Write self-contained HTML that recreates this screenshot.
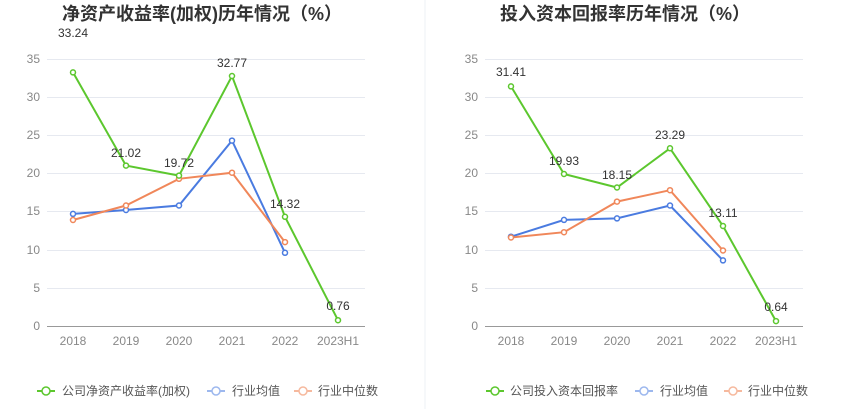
<!DOCTYPE html>
<html><head><meta charset="utf-8"><style>
body{margin:0;background:#fff;}
svg text{font-family:"Liberation Sans","Noto Sans CJK SC",sans-serif;}
</style></head><body>
<svg width="850" height="409" viewBox="0 0 850 409" xmlns="http://www.w3.org/2000/svg">
<rect width="850" height="409" fill="#fff"/>
<line x1="425" y1="0" x2="425" y2="409" stroke="#eef0f4" stroke-width="1"/>
<g id="L">
<text x="202" y="20" font-size="18" font-weight="bold" fill="#333" text-anchor="middle">净资产收益率(加权)历年情况（%）</text>
<g stroke="#e6e9f0" stroke-width="1">
<line x1="47" x2="365" y1="59.5" y2="59.5"/><line x1="47" x2="365" y1="97.5" y2="97.5"/><line x1="47" x2="365" y1="135.5" y2="135.5"/><line x1="47" x2="365" y1="173.5" y2="173.5"/><line x1="47" x2="365" y1="211.5" y2="211.5"/><line x1="47" x2="365" y1="250.5" y2="250.5"/><line x1="47" x2="365" y1="288.5" y2="288.5"/>
</g>
<line x1="47" x2="365" y1="326.5" y2="326.5" stroke="#999"/>
<g font-size="12" fill="#888" text-anchor="end">
<text x="40" y="63">35</text><text x="40" y="101">30</text><text x="40" y="139">25</text><text x="40" y="177">20</text><text x="40" y="215">15</text><text x="40" y="254">10</text><text x="40" y="292">5</text><text x="40" y="330">0</text>
</g>
<g font-size="12" fill="#888" text-anchor="middle">
<text x="73" y="345">2018</text><text x="126" y="345">2019</text><text x="179" y="345">2020</text><text x="232" y="345">2021</text><text x="285" y="345">2022</text><text x="338" y="345">2023H1</text>
</g>
<polyline fill="none" stroke="#4a7be0" stroke-width="2" points="73,213.9 126,210 179,205.5 232,140.6 285,252.8"/>
<polyline fill="none" stroke="#f0875a" stroke-width="2" points="73,220 126,205.5 179,178.8 232,172.7 285,242.1"/>
<polyline fill="none" stroke="#5cc72e" stroke-width="2" points="73,72.4 126,165.6 179,175.6 232,76 285,216.8 338,320.2"/>
<g fill="#fff" stroke-width="1.5">
<g stroke="#4a7be0"><circle cx="73" cy="213.9" r="2.5"/><circle cx="126" cy="210" r="2.5"/><circle cx="179" cy="205.5" r="2.5"/><circle cx="232" cy="140.6" r="2.5"/><circle cx="285" cy="252.8" r="2.5"/></g>
<g stroke="#f0875a"><circle cx="73" cy="220" r="2.5"/><circle cx="126" cy="205.5" r="2.5"/><circle cx="179" cy="178.8" r="2.5"/><circle cx="232" cy="172.7" r="2.5"/><circle cx="285" cy="242.1" r="2.5"/></g>
<g stroke="#5cc72e"><circle cx="73" cy="72.4" r="2.5"/><circle cx="126" cy="165.6" r="2.5"/><circle cx="179" cy="175.6" r="2.5"/><circle cx="232" cy="76" r="2.5"/><circle cx="285" cy="216.8" r="2.5"/><circle cx="338" cy="320.2" r="2.5"/></g>
</g>
<g font-size="12" fill="#333" text-anchor="middle">
<text x="73" y="37">33.24</text><text x="126" y="157">21.02</text><text x="179" y="167">19.72</text><text x="232" y="67">32.77</text><text x="285" y="208">14.32</text><text x="338" y="310">0.76</text>
</g>
<g font-size="12" fill="#555">
<line x1="37" x2="55" y1="391" y2="391" stroke="#5cc72e" stroke-width="2"/><circle cx="46" cy="391" r="4" fill="#fff" stroke="#5cc72e" stroke-width="1.5"/><text x="62" y="395">公司净资产收益率(加权)</text>
<line x1="207" x2="225" y1="391" y2="391" stroke="#9db8ee" stroke-width="2"/><circle cx="216" cy="391" r="4" fill="#fff" stroke="#9db8ee" stroke-width="1.5"/><text x="232" y="395">行业均值</text>
<line x1="294" x2="312" y1="391" y2="391" stroke="#f6b99e" stroke-width="2"/><circle cx="303" cy="391" r="4" fill="#fff" stroke="#f6b99e" stroke-width="1.5"/><text x="318" y="395">行业中位数</text>
</g>
</g>
<g id="R">
<text x="625" y="20" font-size="18" font-weight="bold" fill="#333" text-anchor="middle">投入资本回报率历年情况（%）</text>
<g stroke="#e6e9f0" stroke-width="1">
<line x1="485" x2="803" y1="59.5" y2="59.5"/><line x1="485" x2="803" y1="97.5" y2="97.5"/><line x1="485" x2="803" y1="135.5" y2="135.5"/><line x1="485" x2="803" y1="173.5" y2="173.5"/><line x1="485" x2="803" y1="211.5" y2="211.5"/><line x1="485" x2="803" y1="250.5" y2="250.5"/><line x1="485" x2="803" y1="288.5" y2="288.5"/>
</g>
<line x1="485" x2="803" y1="326.5" y2="326.5" stroke="#999"/>
<g font-size="12" fill="#888" text-anchor="end">
<text x="478" y="63">35</text><text x="478" y="101">30</text><text x="478" y="139">25</text><text x="478" y="177">20</text><text x="478" y="215">15</text><text x="478" y="254">10</text><text x="478" y="292">5</text><text x="478" y="330">0</text>
</g>
<g font-size="12" fill="#888" text-anchor="middle">
<text x="511" y="345">2018</text><text x="564" y="345">2019</text><text x="617" y="345">2020</text><text x="670" y="345">2021</text><text x="723" y="345">2022</text><text x="776" y="345">2023H1</text>
</g>
<polyline fill="none" stroke="#4a7be0" stroke-width="2" points="511,236.7 564,219.9 617,218.4 670,205.5 723,260.4"/>
<polyline fill="none" stroke="#f0875a" stroke-width="2" points="511,237.5 564,232.2 617,201.6 670,190.2 723,250.5"/>
<polyline fill="none" stroke="#5cc72e" stroke-width="2" points="511,86.4 564,174 617,187.5 670,148.3 723,226 776,321.1"/>
<g fill="#fff" stroke-width="1.5">
<g stroke="#4a7be0"><circle cx="511" cy="236.7" r="2.5"/><circle cx="564" cy="219.9" r="2.5"/><circle cx="617" cy="218.4" r="2.5"/><circle cx="670" cy="205.5" r="2.5"/><circle cx="723" cy="260.4" r="2.5"/></g>
<g stroke="#f0875a"><circle cx="511" cy="237.5" r="2.5"/><circle cx="564" cy="232.2" r="2.5"/><circle cx="617" cy="201.6" r="2.5"/><circle cx="670" cy="190.2" r="2.5"/><circle cx="723" cy="250.5" r="2.5"/></g>
<g stroke="#5cc72e"><circle cx="511" cy="86.4" r="2.5"/><circle cx="564" cy="174" r="2.5"/><circle cx="617" cy="187.5" r="2.5"/><circle cx="670" cy="148.3" r="2.5"/><circle cx="723" cy="226" r="2.5"/><circle cx="776" cy="321.1" r="2.5"/></g>
</g>
<g font-size="12" fill="#333" text-anchor="middle">
<text x="511" y="76">31.41</text><text x="564" y="165">19.93</text><text x="617" y="179">18.15</text><text x="670" y="139">23.29</text><text x="723" y="217">13.11</text><text x="776" y="311">0.64</text>
</g>
<g font-size="12" fill="#555">
<line x1="486" x2="504" y1="391" y2="391" stroke="#5cc72e" stroke-width="2"/><circle cx="495" cy="391" r="4" fill="#fff" stroke="#5cc72e" stroke-width="1.5"/><text x="510" y="395">公司投入资本回报率</text>
<line x1="635" x2="653" y1="391" y2="391" stroke="#9db8ee" stroke-width="2"/><circle cx="644" cy="391" r="4" fill="#fff" stroke="#9db8ee" stroke-width="1.5"/><text x="660" y="395">行业均值</text>
<line x1="724" x2="742" y1="391" y2="391" stroke="#f6b99e" stroke-width="2"/><circle cx="733" cy="391" r="4" fill="#fff" stroke="#f6b99e" stroke-width="1.5"/><text x="748" y="395">行业中位数</text>
</g>
</g>
</svg>
</body></html>
